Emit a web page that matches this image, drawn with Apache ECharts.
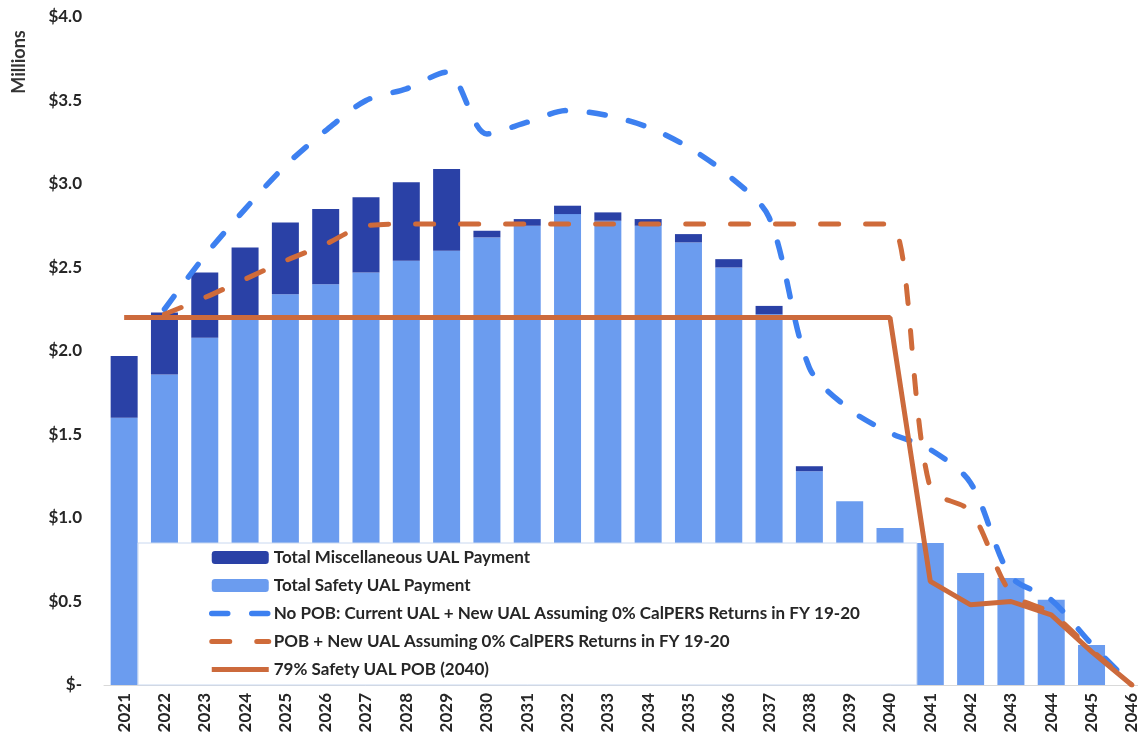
<!DOCTYPE html>
<html>
<head>
<meta charset="utf-8">
<script src="https://cdn.jsdelivr.net/npm/echarts@6/dist/echarts.min.js"></script>
<style>
html,body{margin:0;padding:0;background:#fff;overflow:hidden;width:1138px;height:742px;}
#chart{width:1152px;height:742px;}
</style>
</head>
<body>
<div id="chart"></div>
<script>
// ---- data ----
const years = ['2021','2022','2023','2024','2025','2026','2027','2028','2029','2030','2031','2032','2033','2034','2035','2036','2037','2038','2039','2040','2041','2042','2043','2044','2045','2046'];
const safetyUAL = [1.60,1.86,2.08,2.20,2.34,2.40,2.47,2.54,2.60,2.68,2.75,2.82,2.78,2.75,2.65,2.50,2.22,1.28,1.10,0.94,0.85,0.67,0.64,0.51,0.24,0];
const miscUAL   = [0.37,0.37,0.39,0.42,0.43,0.45,0.45,0.47,0.49,0.04,0.04,0.05,0.05,0.04,0.05,0.05,0.05,0.03,0,0,0,0,0,0,0,0];
const noPOB     = [null,2.25,2.57,2.85,3.11,3.32,3.50,3.57,3.67,3.30,3.37,3.44,3.41,3.34,3.22,3.05,2.80,1.90,1.65,1.51,1.41,1.21,0.65,0.51,0.245,0];
const pobNewUAL = [null,2.22,2.32,2.43,2.54,2.64,2.75,2.76,2.76,2.76,2.76,2.76,2.76,2.76,2.76,2.76,2.76,2.76,2.76,2.76,1.18,1.04,0.55,0.43,0.21,0];
const safetyPOB = [2.2,2.2,2.2,2.2,2.2,2.2,2.2,2.2,2.2,2.2,2.2,2.2,2.2,2.2,2.2,2.2,2.2,2.2,2.2,2.2,0.62,0.48,0.50,0.42,0.20,0];
const yTicks = {0:'$-',0.5:'$0.5',1:'$1.0',1.5:'$1.5',2:'$2.0',2.5:'$2.5',3:'$3.0',3.5:'$3.5',4:'$4.0'};
const names = {
  misc:'Total Miscellaneous UAL Payment',
  safety:'Total Safety UAL Payment',
  noPOB:'No POB: Current UAL + New UAL Assuming 0% CalPERS Returns in FY 19-20',
  pob:'POB + New UAL Assuming 0% CalPERS Returns in FY 19-20',
  sPOB:'79% Safety UAL POB (2040)'
};

const FONT = 'Lato, "Open Sans", sans-serif';
const hideSym = {opacity:0};
const chart = echarts.init(document.getElementById('chart'));
chart.setOption({
  backgroundColor:'#ffffff',
  animation:false,
  grid:{left:104,right:0,top:17,bottom:57,containLabel:false},
  xAxis:{
    type:'category',data:years,
    axisLine:{show:true,lineStyle:{color:'#d9d9d9',width:1}},
    axisTick:{show:false},
    axisLabel:{rotate:90,interval:0,fontFamily:FONT,fontSize:17,fontWeight:'bold',color:'#262626',margin:8}
  },
  yAxis:{
    type:'value',min:0,max:4,interval:0.5,
    splitLine:{show:false},axisLine:{show:false},axisTick:{show:false},
    axisLabel:{fontFamily:FONT,fontSize:17,fontWeight:'bold',color:'#262626',margin:22,
      formatter:v=>yTicks[v] !== undefined ? yTicks[v] : ''}
  },
  legend:{
    orient:'vertical',left:138,top:543,
    data:[names.misc,names.safety,
      {name:names.noPOB,itemStyle:hideSym,lineStyle:{width:5.5}},
      {name:names.pob,itemStyle:hideSym,lineStyle:{width:5}},
      {name:names.sPOB,itemStyle:hideSym,lineStyle:{width:5}}],
    itemWidth:57,itemHeight:13,itemGap:11,
    padding:[6,57,7,71],
    backgroundColor:'#ffffff',borderColor:'#c9d8f0',borderWidth:1,
    textStyle:{fontFamily:FONT,fontSize:17,fontWeight:'bold',color:'#262626',lineHeight:16}
  },
  graphic:[{type:'text',x:19,y:62,rotation:Math.PI/2,
    style:{text:'Millions',fontFamily:FONT,fontSize:18,fontWeight:'bold',fill:'#333',textAlign:'center',textVerticalAlign:'middle'}}],
  series:[
    {name:names.safety,type:'bar',stack:'ual',data:safetyUAL,barWidth:27,itemStyle:{color:'#6b9cef'}},
    {name:names.misc,type:'bar',stack:'ual',data:miscUAL,barWidth:27,itemStyle:{color:'#2a41a6'}},
    {name:names.noPOB,type:'line',data:noPOB,symbol:'none',smooth:0.3,z:4,
      itemStyle:{color:'#3d80f0'},lineStyle:{color:'#3d80f0',width:5.5,type:[16,24],cap:'round'}},
    {name:names.pob,type:'line',data:pobNewUAL,symbol:'none',smooth:0.3,z:4,
      itemStyle:{color:'#cf6b3a'},lineStyle:{color:'#cf6b3a',width:5,type:[18,27],cap:'round'}},
    {name:names.sPOB,type:'line',data:safetyPOB,symbol:'none',smooth:false,z:5,
      itemStyle:{color:'#cc6a3c'},lineStyle:{color:'#cc6a3c',width:5}}
  ]
});
</script>
</body>
</html>
